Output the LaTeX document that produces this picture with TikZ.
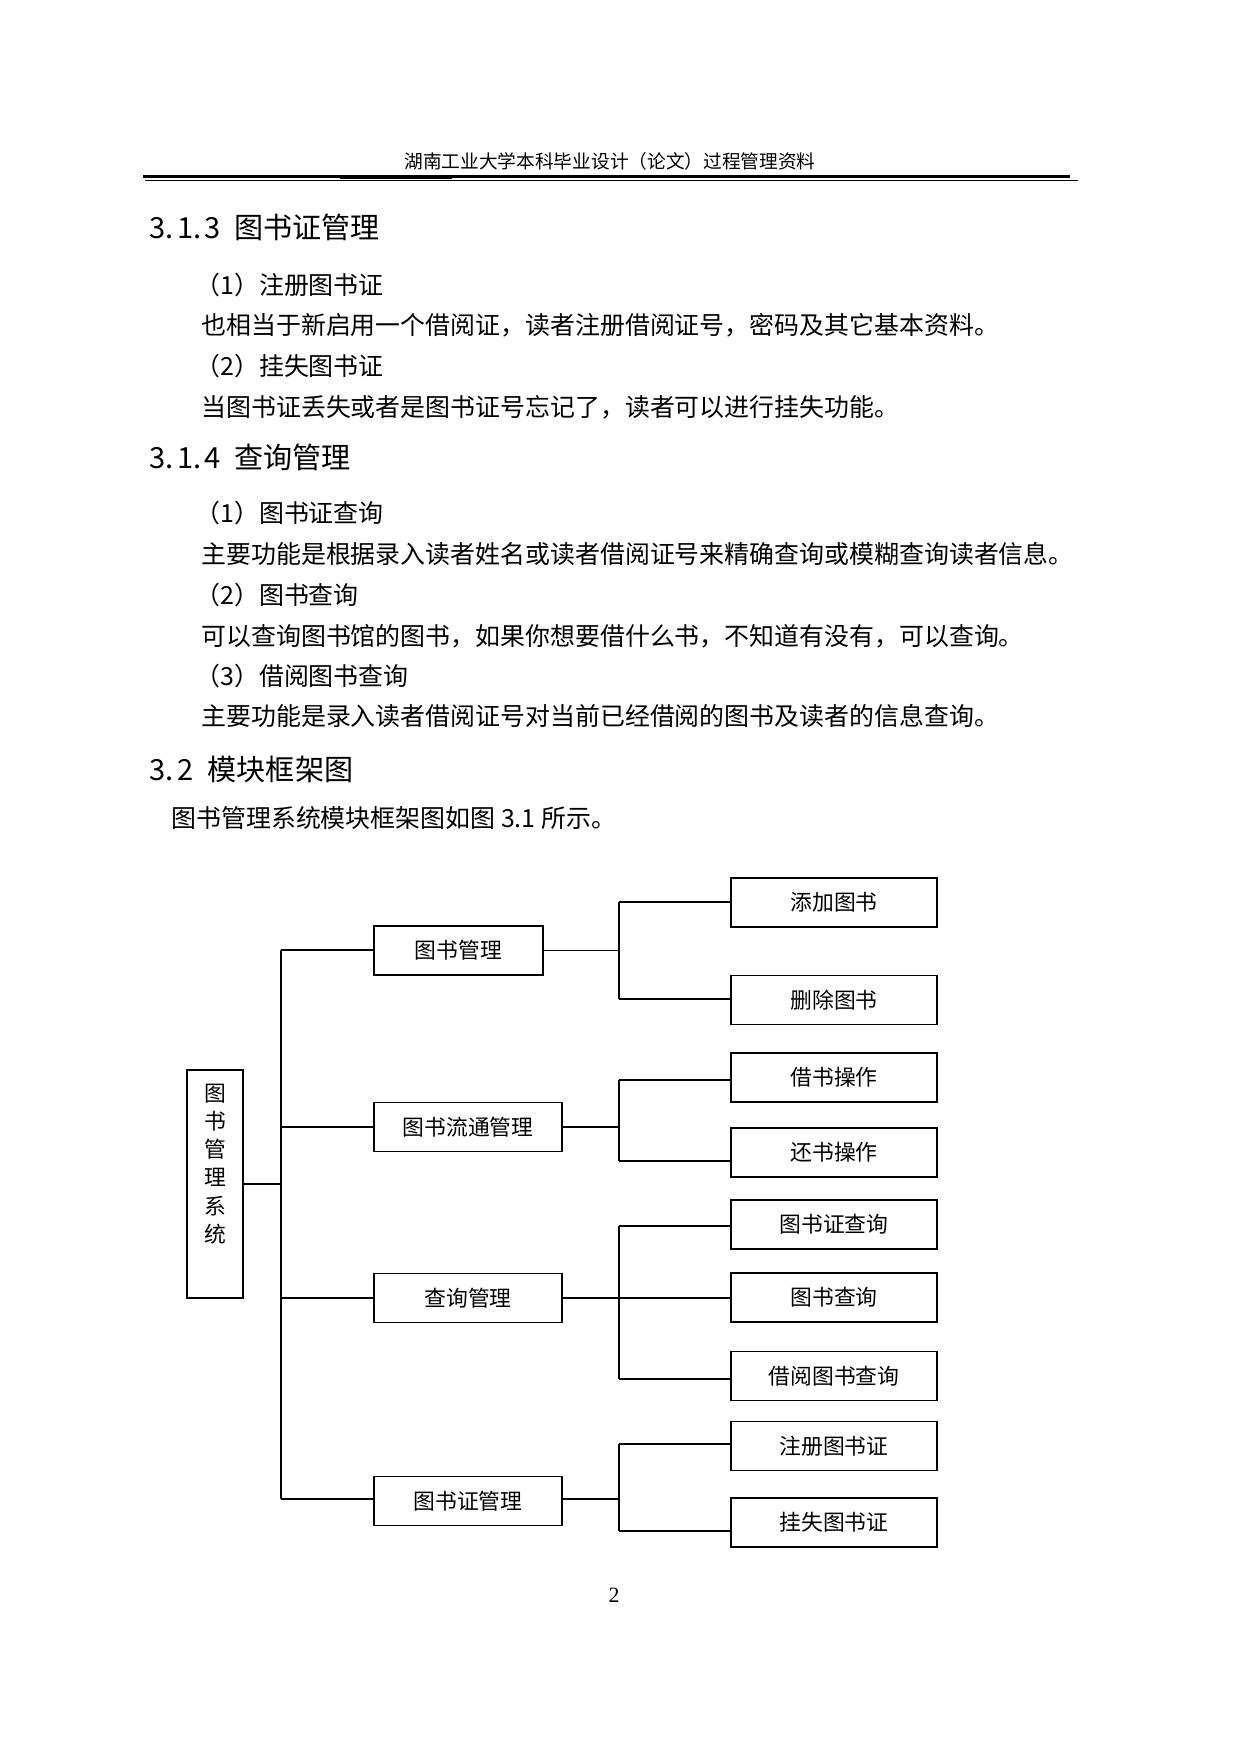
\documentclass[tikz,border=0pt]{standalone}
\usepackage{fontspec}
\setmainfont{Liberation Serif}
\newfontfamily\cjk{Noto Sans CJK SC}
\tikzset{
	hdr/.style={inner sep=0, font=\cjk\fontsize{9}{11}\selectfont},
	sec/.style={anchor=west, inner sep=0, font=\cjk\fontsize{14}{16}\selectfont},
	para/.style={anchor=west, inner sep=0, font=\cjk\fontsize{12}{14}\selectfont},
	box/.style={draw, line width=0.7pt, inner sep=0, minimum height=8.29mm, font=\cjk\fontsize{10.5}{12}\selectfont},
	mid/.style={box, minimum width=31.81mm},
	leaf/.style={box, minimum width=34.86mm},
	link/.style={line width=0.8pt},
}
\begin{document}
\begin{tikzpicture}[x=0.16922mm, y=-0.16922mm]
				\useasboundingbox (0,0) rectangle (1241,1755);
				\node[hdr] (hdrtxt) at (610,161) {湖南工业大学本科毕业设计（论文）过程管理资料};
				\coordinate (r1a) at (143,176.3);
				\coordinate (r1b) at (1070,176.3);
				\coordinate (r2a) at (145,180.5);
				\coordinate (r2b) at (1078,180.5);
				\draw[line width=0.457mm] (r1a) to (r1b);
				\draw[line width=0.288mm] (r2a) to (r2b);
				\fill (340,175) rectangle (452,179);
				\node[sec] (sec313) at (149,227) {3.\hspace{0.12em}1.\hspace{0.12em}3\hspace{0.45em}图书证管理};
				\node[para] (item1) at (195,285) {（1）注册图书证};
				\node[para] (text1) at (201,325) {也相当于新启用一个借阅证，读者注册借阅证号，密码及其它基本资料。};
				\node[para] (item2) at (195,366) {（2）挂失图书证};
				\node[para] (text2) at (201,407) {当图书证丢失或者是图书证号忘记了，读者可以进行挂失功能。};
				\node[sec] (sec314) at (149,457) {3.\hspace{0.12em}1.\hspace{0.12em}4\hspace{0.45em}查询管理};
				\node[para] (item3) at (195,513) {（1）图书证查询};
				\node[para] (text3) at (201,554) {主要功能是根据录入读者姓名或读者借阅证号来精确查询或模糊查询读者信息。};
				\node[para] (item4) at (195,595) {（2）图书查询};
				\node[para] (text4) at (201,636) {可以查询图书馆的图书，如果你想要借什么书，不知道有没有，可以查询。};
				\node[para] (item5) at (195,676) {（3）借阅图书查询};
				\node[para] (text5) at (201,716) {主要功能是录入读者借阅证号对当前已经借阅的图书及读者的信息查询。};
				\node[sec] (sec32) at (149,769) {3.\hspace{0.12em}2\hspace{0.5em}模块框架图};
				\node[para] (intro) at (171,818) {图书管理系统模块框架图如图 3.1 所示。};
				\node[box, minimum width=9.48mm, minimum height=38.58mm] (root) at (215,1184) {};
				\node[inner sep=0, align=center, font=\cjk\fontsize{10.5}{13.6}\selectfont] (rootlbl) at (215,1164) {图\\书\\管\\理\\系\\统};
				\node[box, minimum width=28.6mm] (mgmt) at (458.5,950.5) {图书管理};
				\node[mid] (circ) at (468,1127) {图书流通管理};
				\node[mid] (query) at (468,1298) {查询管理};
				\node[mid] (card) at (468,1501) {图书证管理};
				\node[leaf] (addbook) at (834,902.5) {添加图书};
				\node[leaf] (delbook) at (834,1000) {删除图书};
				\node[leaf] (lend) at (834,1077.5) {借书操作};
				\node[leaf] (giveback) at (834,1152.5) {还书操作};
				\node[leaf] (cardq) at (834,1224.5) {图书证查询};
				\node[leaf] (bookq) at (834,1297.5) {图书查询};
				\node[leaf] (borrowq) at (834,1376) {借阅图书查询};
				\node[leaf] (reg) at (834,1446) {注册图书证};
				\node[leaf] (loss) at (834,1522.5) {挂失图书证};
				\coordinate (rj) at (281,1184);
				\coordinate (t1) at (281,950);
				\coordinate (t4) at (281,1499);
				\draw[link] (root.east) to (rj);
				\draw[link] (t1) to (t4);
				\draw[link] (t1) to (t1 -| mgmt.west);
				\draw[link] (circ.west -| rj) to (circ.west);
				\draw[link] (query.west -| rj) to (query.west);
				\draw[link] (t4) to (t4 -| card.west);
				\coordinate (s1a) at (619,902);
				\coordinate (s1b) at (619,999);
				\coordinate (s2a) at (619,1080);
				\coordinate (s2b) at (619,1161);
				\coordinate (s3a) at (619,1226);
				\coordinate (s3b) at (619,1379);
				\coordinate (s4a) at (619,1444);
				\coordinate (s4b) at (619,1531);
				\draw[link] (mgmt.east) to (mgmt.east -| s1a);
				\draw[link] (s1a) to (s1b);
				\draw[link] (s1a) to (s1a -| addbook.west);
				\draw[link] (s1b) to (s1b -| delbook.west);
				\draw[link] (circ.east) to (circ.east -| s2a);
				\draw[link] (s2a) to (s2b);
				\draw[link] (s2a) to (s2a -| lend.west);
				\draw[link] (s2b) to (s2b -| giveback.west);
				\draw[link] (query.east) to (query.east -| bookq.west);
				\draw[link] (s3a) to (s3b);
				\draw[link] (s3a) to (s3a -| cardq.west);
				\draw[link] (s3b) to (s3b -| borrowq.west);
				\draw[link] (t4 -| card.east) to (t4 -| s4a);
				\draw[link] (s4a) to (s4b);
				\draw[link] (s4a) to (s4a -| reg.west);
				\draw[link] (s4b) to (s4b -| loss.west);
				\node[inner sep=0, font=\fontsize{10.5}{12}\selectfont] (pagenum) at (614,1595) {2};
			\end{tikzpicture}
\end{document}
